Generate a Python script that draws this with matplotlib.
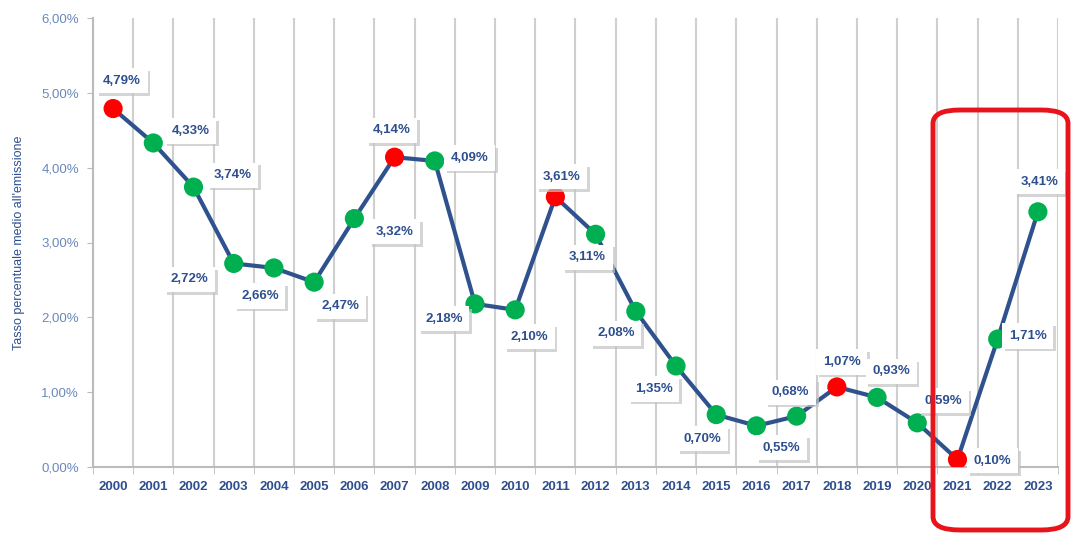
import numpy as np
import matplotlib
matplotlib.use("Agg")
import matplotlib.pyplot as plt
import matplotlib.patheffects as pe
from matplotlib.patches import FancyBboxPatch

years = [str(y) for y in range(2000, 2024)]
rates = [4.79, 4.33, 3.74, 2.72, 2.66, 2.47, 3.32, 4.14, 4.09, 2.18, 2.10, 3.61,
         3.11, 2.08, 1.35, 0.70, 0.55, 0.68, 1.07, 0.93, 0.59, 0.10, 1.71, 3.41]
red_years = ["2000", "2007", "2011", "2018", "2021"]
# label offsets in pixels (dx, dy) from each point
offsets = [(9, 28), (37, 12), (39, 12), (-44, -16), (-14, -28), (26, -24),
           (40, -13), (-3, 27), (35, 3), (-31, -15), (14, -27), (6, 20),
           (-8, -23), (-20, -22), (-22, -23), (-14, -24), (25, -22), (-6, 24),
           (5, 25), (14, 26), (26, 22), (35, -1), (30, 3), (2, 30)]

line_col = "#2F528F"
text_col = "#2E4F8F"
tick_col = "#6A88BC"
green = "#00B050"
red = "#FF0000"

plt.rcParams['font.family'] = ['Liberation Sans', 'DejaVu Sans']

fig = plt.figure(figsize=(10.74, 5.35), dpi=100)
ax = fig.add_axes([93 / 1074, 1 - 467 / 535, (1058 - 93) / 1074, (467 - 18) / 535])

x = np.arange(len(years))
ax.plot(x, rates, color=line_col, lw=3, zorder=3)
cols = [red if y in red_years else green for y in years]
ax.scatter(x, rates, s=190, c=cols, zorder=4, linewidths=0)

for xi, v, (dx, dy) in zip(x, rates, offsets):
    t = ax.annotate(f"{v:.2f}%".replace(".", ","), (xi, v), xytext=(dx, dy),
                    textcoords="offset pixels", ha="center", va="center",
                    fontsize=9.5, fontweight="bold", color=text_col, zorder=5,
                    bbox=dict(boxstyle="square,pad=0.5", fc="white", ec="none"))
    t.get_bbox_patch().set_path_effects(
        [pe.SimplePatchShadow(offset=(2, -2), shadow_rgbFace="#C4C4C4", alpha=0.7), pe.Normal()])

ax.set_xlim(-0.5, len(years) - 0.5)
ax.set_ylim(0, 6)
ax.set_xticks(x)
ax.set_xticklabels(years, fontsize=9.5, fontweight="bold", color=text_col)
ax.set_xticks(np.arange(-0.5, len(years)), minor=True)
ax.tick_params(axis="x", which="major", length=0, pad=10)
ax.tick_params(axis="x", which="minor", length=5, color="#BBBBBB")
ax.set_yticks(np.arange(0, 7))
ax.set_yticklabels([f"{v},00%" for v in range(7)], fontsize=9.5, color=tick_col)
ax.tick_params(axis="y", length=4, color="#BBBBBB", pad=6)
ax.grid(axis="x", which="minor", color="#CFCFCF", lw=1.5)
for s in ["top", "right"]:
    ax.spines[s].set_visible(False)
for s in ["left", "bottom"]:
    ax.spines[s].set_color("#BBBBBB")
    ax.spines[s].set_linewidth(1.5)
ax.set_ylabel("Tasso percentuale medio all'emissione", fontsize=9, color=text_col, labelpad=12)

box = FancyBboxPatch((933 / 1074, 1 - 530 / 535), (1068 - 933) / 1074, (530 - 110) / 535,
                     boxstyle="round,pad=0,rounding_size=0.025", transform=fig.transFigure,
                     fill=False, ec="#E8141C", lw=3.5, zorder=10)
fig.patches.append(box)

fig.savefig("out.png", dpi=100)
